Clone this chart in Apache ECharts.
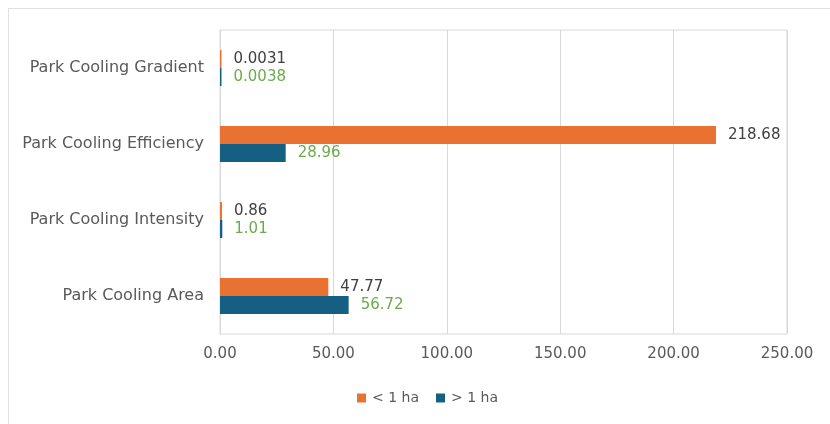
<!DOCTYPE html>
<html>
<head>
<meta charset="utf-8">
<script src="https://cdn.jsdelivr.net/npm/echarts@6/dist/echarts.min.js"></script>
<style>
  html, body { margin: 0; padding: 0; background: #ffffff; }
  #frame { position: absolute; left: 8px; top: 8px; right: 0; bottom: 0;
           border-left: 1px solid #e2e2e2; border-top: 1px solid #e2e2e2; }
  #chart { position: absolute; left: 0; top: 0; width: 830px; height: 424px; }
</style>
</head>
<body>
<div id="frame"></div>
<div id="chart"></div>
<script>
// Park cooling metrics by park size
const categories = ['Park Cooling Area', 'Park Cooling Intensity', 'Park Cooling Efficiency', 'Park Cooling Gradient'];
const smallParks = [47.77, 0.86, 218.68, 0.0031];   // < 1 ha
const largeParks = [56.72, 1.01, 28.96, 0.0038];    // > 1 ha
const smallLabels = ['47.77', '0.86', '218.68', '0.0031'];
const largeLabels = ['56.72', '1.01', '28.96', '0.0038'];
const xTicks = [0, 50, 100, 150, 200, 250];

const font = '"DejaVu Sans", "Open Sans", sans-serif';
const chart = echarts.init(document.getElementById('chart'), null, { renderer: 'canvas' });

chart.setOption({
  backgroundColor: 'transparent',
  animation: false,
  grid: {
    left: 220, right: 43, top: 30, bottom: 90, containLabel: false,
    show: true, borderColor: '#d9d9d9', borderWidth: 1, backgroundColor: 'transparent'
  },
  legend: {
    data: ['< 1 ha', '> 1 ha'],
    bottom: 14,
    left: 352,
    itemWidth: 9,
    itemHeight: 9,
    itemGap: 17,
    icon: 'rect',
    textStyle: { color: '#595959', fontSize: 14, fontFamily: font, padding: [0, 0, 0, 1] }
  },
  xAxis: {
    type: 'value',
    min: xTicks[0],
    max: xTicks[xTicks.length - 1],
    interval: 50,
    axisLine: { show: false },
    axisTick: { show: false },
    splitLine: { show: true, lineStyle: { color: '#d9d9d9', width: 1 } },
    axisLabel: {
      color: '#595959', fontSize: 15, fontFamily: font, margin: 13,
      formatter: v => v.toFixed(2)
    }
  },
  yAxis: {
    type: 'category',
    data: categories,
    axisLine: { show: true, lineStyle: { color: '#d9d9d9' } },
    axisTick: { show: false },
    splitLine: { show: false },
    axisLabel: { color: '#595959', fontSize: 16, fontFamily: font, margin: 16 }
  },
  series: [
    {
      name: '< 1 ha',
      type: 'bar',
      data: smallParks,
      barWidth: 18,
      barGap: '0%',
      barMinHeight: 1.5,
      itemStyle: { color: '#e97132' },
      label: {
        show: true, position: 'right', distance: 12,
        color: '#404040', fontSize: 15, fontFamily: font,
        formatter: p => smallLabels[p.dataIndex]
      }
    },
    {
      name: '> 1 ha',
      type: 'bar',
      data: largeParks,
      barWidth: 18,
      barGap: '0%',
      barMinHeight: 1.5,
      itemStyle: { color: '#156082' },
      label: {
        show: true, position: 'right', distance: 12,
        color: '#6aab4c', fontSize: 15, fontFamily: font,
        formatter: p => largeLabels[p.dataIndex]
      }
    }
  ]
});
</script>
</body>
</html>
